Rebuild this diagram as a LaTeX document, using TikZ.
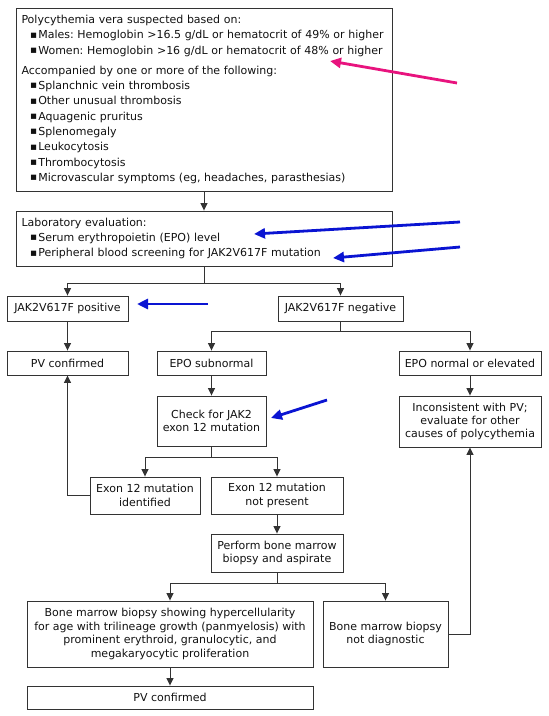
\documentclass[tikz,border=0pt]{standalone}
\usepackage{fontspec}
\setmainfont{DejaVu Sans}
\usetikzlibrary{arrows.meta}
\definecolor{linec}{HTML}{333333}
\definecolor{txtc}{HTML}{111111}
\definecolor{pinkc}{HTML}{E8137E}
\definecolor{bluec}{HTML}{0A14D2}
\frenchspacing
\newcommand{\mybul}{\hspace*{8.6pt}\makebox[8.2pt][l]{\raisebox{0.6pt}{\scalebox{0.95}{▪}}}}
\tikzset{
  box/.style={draw=linec, line width=0.9pt, rectangle, inner sep=0pt, text=txtc, align=center,
    font=\fontsize{11}{13.4}\selectfont},
  listbox/.style={box, align=left, inner xsep=5.5pt, text width=365pt,
    font=\fontsize{11}{15.3}\selectfont},
  conn/.style={draw=linec, line width=0.9pt},
  arr/.style={conn, -{Triangle[length=7.5pt,width=7pt]}},
  note/.style={line width=2.8pt, -{Triangle[length=11pt,width=10pt]}},
}
\begin{document}
\begin{tikzpicture}[x=1pt,y=-1pt]
\useasboundingbox (0,0) rectangle (549,716);
% nodes
\node[listbox, minimum width=376pt, minimum height=183pt] (b1) at (204,99.5) {Polycythemia vera suspected based on:\\
\mybul Males: Hemoglobin >16.5 g/dL or hematocrit of 49\% or higher\\
\mybul Women: Hemoglobin >16 g/dL or hematocrit of 48\% or higher\\[4.7pt]
Accompanied by one or more of the following:\\
\mybul Splanchnic vein thrombosis\\
\mybul Other unusual thrombosis\\
\mybul Aquagenic pruritus\\
\mybul Splenomegaly\\
\mybul Leukocytosis\\
\mybul Thrombocytosis\\
\mybul Microvascular symptoms (eg, headaches, parasthesias)};
\node[listbox, minimum width=376pt, minimum height=55pt] (b2) at (204,238.5) {Laboratory evaluation:\\
\mybul Serum erythropoietin (EPO) level\\
\mybul Peripheral blood screening for JAK2V617F mutation};
\node[box, minimum width=121pt, minimum height=25pt] (pos) at (67.5,308.5) {JAK2V617F positive};
\node[box, minimum width=125pt, minimum height=25pt] (neg) at (340.5,308.5) {JAK2V617F negative};
\node[box, minimum width=121pt, minimum height=24pt] (pv1) at (67.5,363) {PV confirmed};
\node[box, minimum width=109pt, minimum height=24pt] (epos) at (211.5,363) {EPO subnormal};
\node[box, minimum width=142pt, minimum height=24pt] (epon) at (470,363) {EPO normal or elevated};
\node[box, minimum width=109pt, minimum height=50pt] (check) at (211.5,421) {Check for JAK2\\exon 12 mutation};
\node[box, minimum width=142pt, minimum height=51pt] (incons) at (470,421.5) {Inconsistent with PV;\\evaluate for other\\causes of polycythemia};
\node[box, minimum width=110pt, minimum height=37pt] (exid) at (145,495.5) {Exon 12 mutation\\identified};
\node[box, minimum width=132pt, minimum height=37pt] (exnp) at (277,495.5) {Exon 12 mutation\\not present};
\node[box, minimum width=132pt, minimum height=38pt] (perf) at (277,553) {Perform bone marrow\\biopsy and aspirate};
\node[box, minimum width=286pt, minimum height=66pt] (bmshow) at (170,634) {Bone marrow biopsy showing hypercellularity\\for age with trilineage growth (panmyelosis) with\\prominent erythroid, granulocytic, and\\megakaryocytic proliferation};
\node[box, minimum width=125pt, minimum height=66pt] (bmnd) at (385.5,634) {Bone marrow biopsy\\not diagnostic};
\node[box, minimum width=286pt, minimum height=23pt] (pv2) at (170,697.5) {PV confirmed};
% junctions
\coordinate (j1) at (204,283);
\coordinate (j2) at (340.5,331);
\coordinate (j3) at (211.5,457);
\coordinate (j4) at (277,583);
% connectors
\draw[arr] (b1.south) -- (b2.north);
\draw[conn] (b2.south) -- (j1);
\draw[arr] (j1) -| (pos.north);
\draw[arr] (j1) -| (neg.north);
\draw[arr] (pos.south) -- (pv1.north);
\draw[conn] (neg.south) -- (j2);
\draw[arr] (j2) -| (epos.north);
\draw[arr] (j2) -| (epon.north);
\draw[arr] (epos.south) -- (check.north);
\draw[arr] (epon.south) -- (incons.north);
\draw[conn] (check.south) -- (j3);
\draw[arr] (j3) -| (exid.north);
\draw[arr] (j3) -| (exnp.north);
\draw[arr] (exid.west) -| (pv1.south);
\draw[arr] (exnp.south) -- (perf.north);
\draw[conn] (perf.south) -- (j4);
\draw[arr] (j4) -| (bmshow.north);
\draw[arr] (j4) -| (bmnd.north);
\draw[arr] (bmshow.south) -- (pv2.north);
\draw[arr] (bmnd.east) -| (incons.south);
% annotation arrows
\coordinate (pT) at (457,83); \coordinate (pH) at (330,61);
\coordinate (aT) at (460,222); \coordinate (aH) at (254,234);
\coordinate (bT) at (460,247); \coordinate (bH) at (333,258);
\coordinate (cT) at (208,304); \coordinate (cH) at (137,304);
\coordinate (dT) at (327,400); \coordinate (dH) at (271,418);
\draw[note, pinkc] (pT) -- (pH);
\draw[note, bluec] (aT) -- (aH);
\draw[note, bluec] (bT) -- (bH);
\draw[note, bluec] (cT) -- (cH);
\draw[note, bluec] (dT) -- (dH);
\end{tikzpicture}
\end{document}
